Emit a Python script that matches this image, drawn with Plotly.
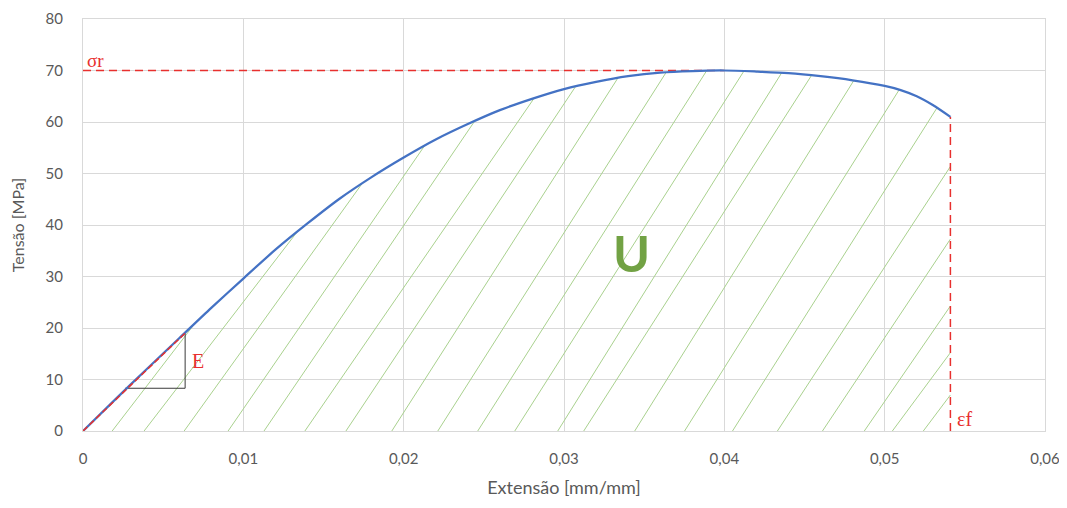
import numpy as np
import plotly.graph_objects as go

# ---------------- data ----------------
strain = [0, 0.002, 0.004, 0.006, 0.008, 0.010, 0.012, 0.014, 0.016, 0.018,
          0.020, 0.022, 0.024, 0.026, 0.028, 0.030, 0.032, 0.034, 0.036, 0.038,
          0.040, 0.042, 0.044, 0.046, 0.048, 0.050, 0.051, 0.052, 0.053, 0.0541]
stress = [0, 6.1, 12.1, 18.0, 23.9, 29.6, 35.2, 40.3, 45.1, 49.3,
          53.1, 56.6, 59.6, 62.3, 64.5, 66.4, 67.8, 68.9, 69.6, 69.9,
          70.0, 69.8, 69.5, 68.9, 68.1, 67.0, 66.2, 65.0, 63.3, 61.0]

sigma_r = 70.0          # ultimate strength
strain_sigma_r = 0.040  # strain at ultimate strength
eps_f = 0.0541          # strain at failure
stress_eps_f = 61.0     # stress at failure

E_strain = [0, 0.00637]
E_stress = [0, 19.0]
tri_strain = [0.00263, 0.00637, 0.00637]
tri_stress = [8.3, 8.3, 19.0]

# hand-drawn hatch lines: baseline start strain and slope (MPa per mm/mm)
hatch_base = [0.00182, 0.00381, 0.00631, 0.00905, 0.01129, 0.01384, 0.01640,
              0.01926, 0.02213, 0.02462, 0.02693, 0.02961, 0.03123, 0.03441,
              0.03752, 0.04051, 0.04331, 0.04612, 0.04873, 0.05048, 0.05241]
hatch_slope = [4050, 4050, 4330, 4520, 4580, 4520, 4670,
               4860, 4890, 4900, 4890, 4980, 4860, 4980,
               4950, 4920, 4760, 4670, 4520, 4200, 4140]

x_ticks = [0, 0.01, 0.02, 0.03, 0.04, 0.05, 0.06]
x_ticklabels = ["0", "0,01", "0,02", "0,03", "0,04", "0,05", "0,06"]
y_ticks = [0, 10, 20, 30, 40, 50, 60, 70, 80]
y_ticklabels = ["0", "10", "20", "30", "40", "50", "60", "70", "80"]

# ---------------- hatch geometry (clipped to area under curve) ----------------
xs = np.linspace(0, eps_f, 6000)
fs = np.interp(xs, strain, stress)
hx, hy = [], []
for b, s in zip(hatch_base, hatch_slope):
    yl = s * (xs - b)
    diff = yl - fs
    idx = np.where((xs > b) & (diff >= 0))[0]
    if len(idx):
        i = idx[0]
        d0, d1 = diff[i - 1], diff[i]
        t = -d0 / (d1 - d0) if d1 != d0 else 0
        xe = xs[i - 1] + t * (xs[i] - xs[i - 1])
    else:
        xe = eps_f
    hx += [b, xe, None]
    hy += [0, s * (xe - b), None]

fig = go.Figure()

fig.add_trace(go.Scatter(x=hx, y=hy, mode="lines",
                         line=dict(color="#A9D18E", width=1),
                         hoverinfo="skip", showlegend=False))

red = "#E8302E"
fig.add_trace(go.Scatter(x=[0, strain_sigma_r], y=[sigma_r, sigma_r], mode="lines",
                         line=dict(color=red, width=1.5, dash="8px,5px"),
                         showlegend=False))
fig.add_trace(go.Scatter(x=[eps_f, eps_f], y=[0, stress_eps_f], mode="lines",
                         line=dict(color=red, width=1.5, dash="8px,5px"),
                         showlegend=False))
fig.add_trace(go.Scatter(x=tri_strain, y=tri_stress, mode="lines",
                         line=dict(color="#3A3A3A", width=1),
                         showlegend=False))

fig.add_trace(go.Scatter(x=strain, y=stress, mode="lines",
                         line=dict(color="#4472C4", width=2.25, shape="spline", smoothing=0.8),
                         showlegend=False))

fig.add_trace(go.Scatter(x=E_strain, y=E_stress, mode="lines",
                         line=dict(color=red, width=1.5, dash="6px,3px"),
                         showlegend=False))

serif = "Liberation Serif"
fig.add_annotation(x=0.00012, y=71.9, text="σr", xref="x", yref="y", xanchor="left",
                   yanchor="middle", showarrow=False,
                   font=dict(family=serif, size=19, color=red))
fig.add_annotation(x=0.00670, y=13.5, text="E", xref="x", yref="y", xanchor="left",
                   yanchor="middle", showarrow=False,
                   font=dict(family=serif, size=20, color=red))
fig.add_annotation(x=0.05440, y=2.3, text="εf", xref="x", yref="y", xanchor="left",
                   yanchor="middle", showarrow=False,
                   font=dict(family=serif, size=20, color=red))
fig.add_annotation(x=0.03422, y=34.6, text="<b>U</b>", xref="x", yref="y",
                   xanchor="center", yanchor="middle", showarrow=False,
                   font=dict(family="Lato", size=50, color="#72A244"))

# the page body has an 8px margin: shrink the figure so the plot area lands
# exactly where the reference has it
axis_font = dict(family="Lato", size=15, color="#595959")
fig.update_layout(
    width=1059, height=500,
    margin=dict(l=75, r=22, t=11, b=77, autoexpand=False),
    paper_bgcolor="white", plot_bgcolor="white",
    showlegend=False,
    xaxis=dict(range=[0, 0.06], tickvals=x_ticks, ticktext=x_ticklabels,
               automargin=False,
               showgrid=True, gridcolor="#D9D9D9", gridwidth=1, zeroline=False,
               showline=True, linecolor="#D9D9D9", mirror=True,
               tickfont=axis_font, ticklabelstandoff=14,
               title=dict(text="Extensão [mm/mm]", font=dict(family="Lato", size=18, color="#595959"),
                          standoff=15)),
    yaxis=dict(range=[0, 80], tickvals=y_ticks, ticktext=y_ticklabels,
               automargin=False,
               showgrid=True, gridcolor="#D9D9D9", gridwidth=1, zeroline=False,
               showline=True, linecolor="#D9D9D9", mirror=True,
               tickfont=axis_font, ticklabelstandoff=16,
               title=dict(text="Tensão [MPa]", font=dict(family="Lato", size=16, color="#595959"),
                          standoff=17)),
)

fig.write_html("out.html")
